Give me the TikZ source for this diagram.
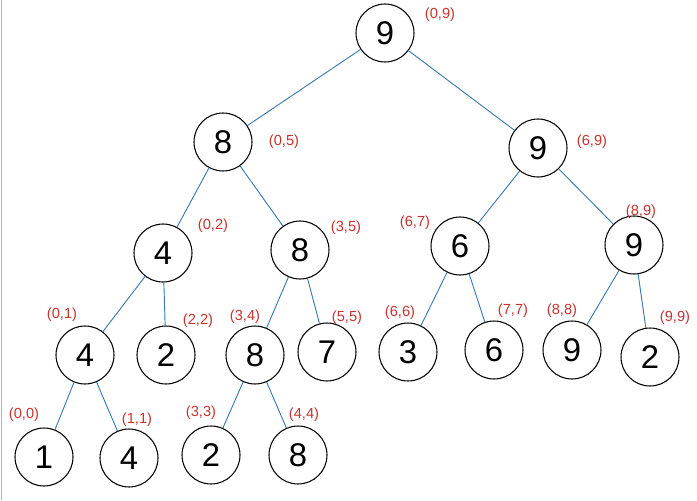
\documentclass[tikz,border=0pt]{standalone}
\usepackage{fontspec}
\setmainfont{Liberation Sans}
\usepackage{tikz}
\usetikzlibrary{positioning}
\definecolor{edgeblue}{HTML}{3C7AB0}
\definecolor{rangered}{HTML}{C8322D}

\begin{document}
\begin{tikzpicture}[x=0.03cm,y=-0.03cm,
  seg/.style={draw,circle,line width=0.9pt,minimum size=1.74cm,inner sep=0pt,font=\fontsize{28}{30}\selectfont},
  rng/.style={text=rangered,font=\fontsize{12.5}{14}\selectfont,inner sep=0pt},
  edge/.style={edgeblue,line width=0.8pt}]
\useasboundingbox (0,0) rectangle (697,500);
\draw[gray!60,line width=1pt] (1.5,0) -- (1.5,500);
% level 0
\node[seg] (n09) at (385,33) {9};
% level 1
\node[seg] (n05) at (223,142) {8};
\node[seg] (n69) at (538,148) {9};
% level 2
\node[seg] (n02) at (163,253) {4};
\node[seg] (n35) at (300,250) {8};
\node[seg] (n67) at (460,246) {6};
\node[seg] (n89) at (634,245) {9};
% level 3
\node[seg] (n01) at (85,355) {4};
\node[seg] (n22) at (166,355) {2};
\node[seg] (n34) at (255,355) {8};
\node[seg] (n55) at (327,352) {7};
\node[seg] (n66) at (408,352) {3};
\node[seg] (n77) at (494,350) {6};
\node[seg] (n88) at (572,350) {9};
\node[seg] (n99) at (650,357) {2};
% level 4
\node[seg] (n00) at (44,457) {1};
\node[seg] (n11) at (129,458) {4};
\node[seg] (n33) at (211,455) {2};
\node[seg] (n44) at (298,455) {8};
% ranges
\node[rng] (l09) at (440,15) {(0,9)};
\node[rng] (l05) at (284,142) {(0,5)};
\node[rng] (l69) at (592,142) {(6,9)};
\node[rng] (l02) at (213,226) {(0,2)};
\node[rng] (l35) at (346,228) {(3,5)};
\node[rng] (l67) at (415,223) {(6,7)};
\node[rng] (l89) at (641,212) {(8,9)};
\node[rng] (l01) at (62,315) {(0,1)};
\node[rng] (l22) at (198,321) {(2,2)};
\node[rng] (l34) at (245,317) {(3,4)};
\node[rng] (l55) at (347,318) {(5,5)};
\node[rng] (l66) at (400,313) {(6,6)};
\node[rng] (l77) at (513,311) {(7,7)};
\node[rng] (l88) at (562,311) {(8,8)};
\node[rng] (l99) at (675,318) {(9,9)};
\node[rng] (l00) at (24,415) {(0,0)};
\node[rng] (l11) at (137,420) {(1,1)};
\node[rng] (l33) at (201,413) {(3,3)};
\node[rng] (l44) at (304,415) {(4,4)};
% tree edges
\draw[edge] (n09) -- (n05);
\draw[edge] (n09) -- (n69);
\draw[edge] (n05) -- (n02);
\draw[edge] (n05) -- (n35);
\draw[edge] (n69) -- (n67);
\draw[edge] (n69) -- (n89);
\draw[edge] (n02) -- (n01);
\draw[edge] (n02) -- (n22);
\draw[edge] (n35) -- (n34);
\draw[edge] (n35) -- (n55);
\draw[edge] (n67) -- (n66);
\draw[edge] (n67) -- (n77);
\draw[edge] (n89) -- (n88);
\draw[edge] (n89) -- (n99);
\draw[edge] (n01) -- (n00);
\draw[edge] (n01) -- (n11);
\draw[edge] (n34) -- (n33);
\draw[edge] (n34) -- (n44);
\end{tikzpicture}
\end{document}
